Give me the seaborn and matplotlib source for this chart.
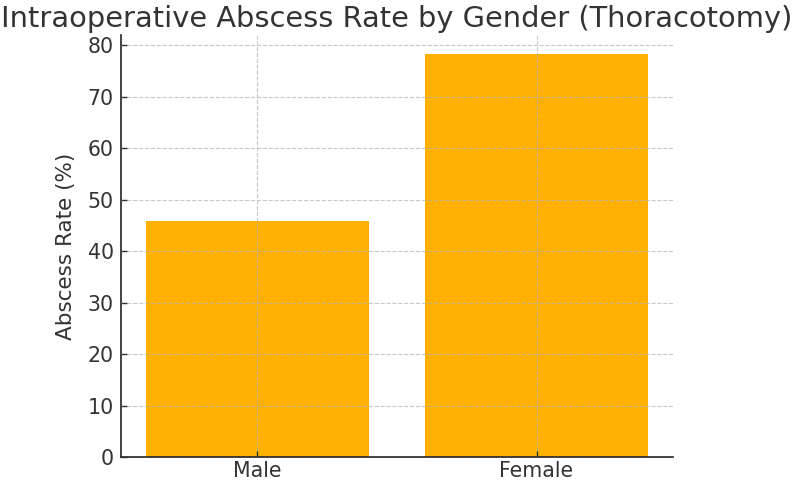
import matplotlib
matplotlib.use("Agg")
import matplotlib.pyplot as plt
import seaborn as sns
import pandas as pd

genders = ["Male", "Female"]
abscess_rates = [45.8, 78.3]

sns.set_style("white")
plt.rcParams['font.family'] = ['DejaVu Sans']

df = pd.DataFrame({"Gender": genders, "Rate": abscess_rates})

fig = plt.figure(figsize=(7.94, 4.82), dpi=100)
ax = fig.add_axes([0.152, 0.052, 0.696, 0.875])
sns.barplot(data=df, x="Gender", y="Rate", color="#FFB000", saturation=1,
            width=0.8, ax=ax, edgecolor="none")
ax.set_xlim(-0.49, 1.49)
ax.set_ylim(0, 82)
ax.set_yticks(range(0, 81, 10))
ax.set_axisbelow(False)
ax.grid(True, axis="both", linestyle="--", color="#b0b0b0", alpha=0.7, linewidth=0.8)
ax.set_xlabel("")
ax.set_ylabel("Abscess Rate (%)", fontsize=15.5, color="#333333", labelpad=8)
ax.set_title("Intraoperative Abscess Rate by Gender (Thoracotomy)", fontsize=20.8, color="#333333", pad=6)
ax.tick_params(axis="both", labelsize=14.8, colors="#333333", length=4.5, width=1.0,
               direction="in", pad=5, bottom=True, left=True)
ax.tick_params(axis="x", pad=3)
for s in ["top", "right"]:
    ax.spines[s].set_visible(False)
for s in ["left", "bottom"]:
    ax.spines[s].set_color("#222222")
    ax.spines[s].set_linewidth(1.2)

fig.savefig("out.png", dpi=100)
